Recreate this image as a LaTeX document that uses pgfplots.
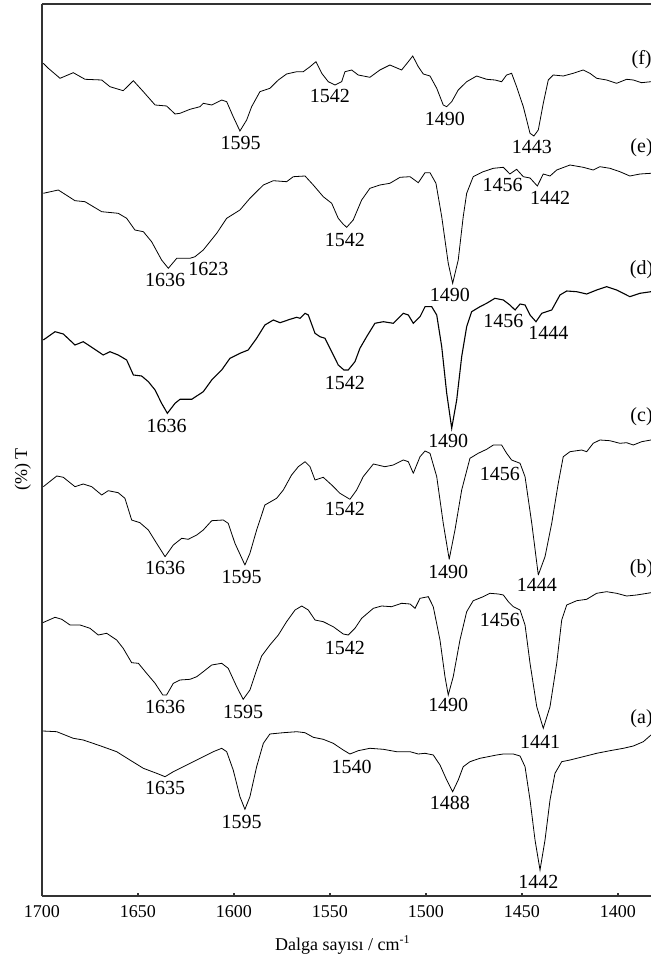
\documentclass[border=0pt]{standalone}
\usepackage{fontspec}
\setmainfont{Liberation Serif}
\usepackage{pgfplots}
\pgfplotsset{compat=1.18}
\begin{document}
\begin{tikzpicture}
\begin{axis}[
  scale only axis, width=304.5pt, height=446pt,
  x dir=reverse, xmin=1382.8, xmax=1700, ymin=0, ymax=892,
  axis x line*=bottom, axis y line*=left,
  axis line style={line width=0.8pt, draw=black!80, -},
  xtick={1400,1450,1500,1550,1600,1650,1700},
  xticklabels={1400,1450,1500,1550,1600,1650,1700},
  xtick align=inside, xtick pos=lower,
  major tick length=1.6pt, major tick style={line width=0.7pt, black!80},
  ytick=\empty,
  tick label style={font=\fontsize{9}{10}\selectfont, yshift=-1.3pt},
  xlabel={Dalga sayısı / cm\textsuperscript{-1}},
  xlabel style={font=\fontsize{9}{10}\selectfont, at={(axis description cs:0.494,0)}, anchor=center, yshift=-24.5pt},
  ylabel={(\%) T},
  ylabel style={font=\fontsize{9}{10}\selectfont, at={(axis description cs:0,0.478)}, anchor=center, rotate=0, yshift=9.6pt},
  clip=false,
  cycle list={{black, solid, line width=0.55pt, line join=round, mark=none}},
  every node/.append style={font=\fontsize{9}{10}\selectfont},
]
% (f)
\addplot coordinates {(1699.3,832.7)(1696.7,827.7)(1690.6,817.7)(1683.7,823.3)(1677.6,816.7)(1668.9,816)(1664.6,809.3)(1657.7,805.3)(1652.4,815.3)(1647.2,804.3)(1641.1,791)(1635.1,790)(1630.7,782)(1628.1,782.7)(1622.9,786.7)(1617.7,789.3)(1616.0,792.7)(1611.6,791)(1606.4,796)(1603.8,794.3)(1600.4,779.3)(1596.9,765)(1593.4,776)(1590.8,789.3)(1586.5,804.3)(1581.3,807.7)(1576.9,816)(1572.6,822)(1567.3,824.3)(1563.9,824.3)(1560.4,829.3)(1557.3,834.3)(1554.3,822.7)(1550.9,814.3)(1547.4,811)(1543.9,814.3)(1542.2,824.3)(1538.7,826)(1535.3,821)(1529.2,818.7)(1524.0,826)(1518.8,831)(1512.7,826)(1509.2,834.3)(1506.9,840)(1504.0,829.3)(1501.4,822)(1497.9,820)(1494.4,807.7)(1491.0,791)(1489.2,789.3)(1486.6,794.3)(1483.2,806)(1478.8,814.3)(1473.6,820)(1468.4,816.7)(1464.1,816)(1460.6,814.3)(1458.0,821)(1455.4,822.7)(1452.8,809.3)(1449.3,789.3)(1445.8,762.7)(1443.8,760)(1441.5,766)(1438.9,792.7)(1436.3,816)(1433.7,821)(1428.5,820)(1423.3,822.7)(1418.1,826)(1414.6,822.7)(1411.1,817.7)(1405.9,816)(1400.7,812.7)(1395.5,816.7)(1392.0,816)(1387.7,813.3)(1382.8,814.3)};
% (e)
\addplot coordinates {(1699.3,702.7)(1691.5,706)(1682.8,695.3)(1677.6,694.3)(1668.9,684.3)(1660.3,682.7)(1655.9,677.7)(1651.6,666)(1647.2,664.3)(1642.9,654.3)(1637.7,636)(1634.2,627.7)(1629.8,637.7)(1622.9,637.7)(1620.3,639.3)(1616.0,646)(1609.0,662.7)(1603.8,677.7)(1596.9,686)(1591.7,697.7)(1584.7,711)(1579.5,715.3)(1572.6,714.3)(1569.1,719.3)(1563.0,720)(1558.7,711)(1553.5,699.3)(1549.1,692.7)(1545.7,677.7)(1543.2,672)(1541.3,668.7)(1537.9,676)(1533.5,696)(1529.2,707.7)(1524.0,711)(1518.8,712.7)(1513.5,718.7)(1508.3,719.3)(1504.0,713.3)(1500.5,723.3)(1497.9,723.3)(1494.8,712.7)(1491.8,679.3)(1488.4,632.7)(1486.1,612.7)(1483.2,636)(1480.6,679.3)(1478.8,702.7)(1475.4,719.3)(1470.2,724.3)(1464.9,727.7)(1459.7,728.7)(1456.3,722)(1452.8,726.7)(1449.3,719.3)(1445.8,718)(1442.0,710)(1438.9,722)(1435.4,720)(1431.9,726)(1425.0,731)(1418.1,728.7)(1412.9,726)(1409.4,729.3)(1404.2,727.7)(1399.0,724.3)(1393.8,720)(1388.5,722)(1382.8,722.7)};
% (d)
\addplot coordinates {(1699.3,556)(1693.2,564.3)(1688.9,562)(1682.8,551)(1678.5,554.3)(1673.3,547.7)(1668.1,541)(1664.6,544.3)(1660.3,541)(1655.9,536)(1652.4,521)(1648.1,520)(1644.6,514.3)(1641.1,506)(1637.7,492.7)(1634.7,482.7)(1630.7,492.7)(1628.1,496.7)(1622.0,496.7)(1619.4,500)(1616.0,504.3)(1611.6,516)(1606.4,526)(1602.1,537.7)(1596.9,542.7)(1592.6,546)(1588.2,557.7)(1583.9,571)(1579.5,576)(1576.0,573.3)(1570.8,576.7)(1567.3,578.7)(1565.6,577.7)(1563.0,582.7)(1561.3,581)(1557.8,562.7)(1555.2,559.3)(1552.6,557.7)(1549.1,544.3)(1545.7,531)(1542.7,526)(1540.5,526)(1537.0,534.3)(1534.4,547.7)(1530.9,559.3)(1526.6,572.7)(1522.2,574.3)(1517.0,572.7)(1511.8,582.7)(1509.2,581)(1506.6,572.7)(1503.1,579.3)(1500.5,589.3)(1497.0,589.3)(1494.4,581)(1491.8,549.3)(1489.2,502.7)(1486.6,467.7)(1484.0,496)(1481.4,539.3)(1478.8,569.3)(1476.2,584.3)(1471.9,589.3)(1468.4,592.7)(1464.1,597.7)(1459.7,596)(1456.3,591)(1453.6,586)(1451.0,592)(1448.4,591)(1445.8,581)(1442.7,574.3)(1439.7,582.7)(1434.5,586)(1430.2,601)(1426.7,605)(1421.5,604.3)(1416.3,602)(1411.1,606)(1405.9,609.3)(1400.7,606)(1393.8,599.3)(1388.5,602.7)(1382.8,604.3)};
% (c)
\addplot coordinates {(1699.3,409.3)(1692.3,420)(1688.9,418.7)(1682.8,409.3)(1678.5,412)(1674.1,409.3)(1668.9,401)(1665.5,405.3)(1660.3,403.3)(1656.8,397.7)(1653.3,376)(1649.0,373.3)(1644.6,366)(1640.3,352.7)(1635.9,339.3)(1631.6,351)(1627.2,357.7)(1623.8,356.7)(1619.4,361)(1616.0,366)(1611.6,375.3)(1605.6,376)(1603.0,372.7)(1599.5,352.7)(1594.3,331)(1591.7,342.7)(1588.2,366)(1583.9,391)(1577.8,397.7)(1574.3,406)(1570.0,421)(1566.5,429.3)(1563.0,434.3)(1560.4,429.3)(1557.8,416)(1553.5,418.7)(1549.1,411)(1544.8,402.7)(1539.6,396.7)(1536.1,406)(1532.7,419.3)(1527.4,432)(1521.4,429.3)(1517.0,431)(1511.8,436)(1509.2,434.3)(1506.6,422.7)(1503.1,439.3)(1500.5,445)(1497.9,442.7)(1494.4,419.3)(1491.0,372.7)(1487.9,336.7)(1484.9,366)(1481.4,406)(1477.1,437.7)(1472.8,442.7)(1468.4,446.7)(1464.9,451)(1460.6,451)(1458.0,442.7)(1455.4,436)(1451.0,432.7)(1448.4,419.3)(1444.9,372.7)(1441.5,321)(1438.0,339.3)(1434.5,372.7)(1431.1,412.7)(1428.5,439.3)(1425.0,444.3)(1418.9,446)(1416.3,444.3)(1412.9,452.7)(1409.4,456)(1404.2,455.3)(1399.0,452.7)(1395.5,453.3)(1392.0,451)(1387.7,454.3)(1382.8,456)};
% (b)
\addplot coordinates {(1699.6,273.3)(1693.2,278.7)(1689.7,276.7)(1685.4,271)(1680.2,271)(1675.0,267.7)(1670.7,261)(1666.3,262.7)(1661.1,256)(1657.7,247.7)(1653.3,233.3)(1649.8,232.7)(1645.5,222.7)(1641.1,212.7)(1637.1,201)(1635.1,201)(1631.6,212.7)(1628.1,216)(1622.9,216.7)(1619.4,219.3)(1616.0,224.3)(1611.6,231)(1606.4,232.7)(1603.0,227.7)(1598.6,209.3)(1595.2,196.7)(1591.7,206)(1588.2,226)(1585.6,240)(1581.3,251)(1576.9,261)(1572.6,274.3)(1568.2,286)(1564.7,290)(1561.3,286)(1557.8,276)(1553.5,274.3)(1548.3,269.3)(1543.1,262)(1540.5,261)(1537.0,267.7)(1533.5,277.7)(1527.4,287.7)(1523.1,290)(1517.9,289.3)(1512.7,292.7)(1508.3,292)(1505.7,287.7)(1503.1,297.7)(1498.8,299.3)(1496.2,289.3)(1492.7,256)(1490.1,219.3)(1488.4,201)(1485.8,219.3)(1482.3,256)(1478.8,284.3)(1475.4,295.3)(1470.2,299.3)(1466.7,302.7)(1462.3,302)(1459.7,301)(1457.1,294.3)(1454.5,289.3)(1451.0,286)(1448.4,271)(1445.8,232.7)(1442.3,189.3)(1438.9,167.7)(1435.4,189.3)(1431.9,232.7)(1429.3,276)(1426.7,291)(1421.5,295.3)(1416.3,296.7)(1411.1,302.7)(1405.9,304.3)(1400.7,302.7)(1395.5,300)(1390.3,301)(1382.8,303.3)};
% (a)
\addplot coordinates {(1699.6,165)(1692.3,164.3)(1683.7,157.7)(1678.5,156)(1669.8,150.3)(1661.1,144.3)(1654.2,136)(1647.2,127.7)(1640.3,122.7)(1635.9,119.3)(1631.6,124.3)(1626.4,129.3)(1621.2,134.3)(1616.0,139.3)(1610.8,144.3)(1606.4,147.7)(1603.8,144.3)(1600.4,126)(1596.9,99.3)(1594.3,86.7)(1591.7,99.3)(1588.2,129.3)(1584.7,152.7)(1581.3,162)(1574.3,163.3)(1567.3,164.3)(1563.0,163.3)(1558.7,158.7)(1553.5,156.7)(1548.3,152.7)(1543.1,146)(1539.6,142)(1535.3,145.3)(1529.2,147.7)(1522.2,146.7)(1515.3,144.3)(1508.3,144.3)(1504.0,142)(1500.5,142.7)(1496.2,141)(1492.7,131)(1489.2,116)(1486.1,104.3)(1483.2,116)(1480.6,129.3)(1477.1,134.3)(1471.9,137.7)(1467.6,139.3)(1463.2,141)(1459.7,142)(1454.5,142)(1451.0,140)(1448.4,129.3)(1445.8,96)(1443.2,56)(1440.6,26)(1438.0,56)(1435.4,96)(1432.8,122.7)(1429.3,134.3)(1425.0,136)(1418.1,139.3)(1411.1,142.7)(1404.2,145.3)(1397.2,147.7)(1392.0,150)(1386.8,154.3)(1382.8,161)};
% peak labels
\node at (axis cs:1596.5,752.7) {1595};
\node at (axis cs:1550,800) {1542};
\node at (axis cs:1490.1,776.7) {1490};
\node at (axis cs:1444.9,748.7) {1443};
\node at (axis cs:1387.7,836) {(f)};
\node at (axis cs:1635.9,616) {1636};
\node at (axis cs:1613.4,626.7) {1623};
\node at (axis cs:1542.2,656) {1542};
\node at (axis cs:1487.5,601) {1490};
\node at (axis cs:1460.1,711) {1456};
\node at (axis cs:1435.4,697.7) {1442};
\node at (axis cs:1387.7,748.7) {(e)};
\node at (axis cs:1635.1,470) {1636};
\node at (axis cs:1542.2,513.3) {1542};
\node at (axis cs:1488.4,455.3) {1490};
\node at (axis cs:1459.7,575.3) {1456};
\node at (axis cs:1436.3,562.7) {1444};
\node at (axis cs:1387.7,626.7) {(d)};
\node at (axis cs:1635.9,327.7) {1636};
\node at (axis cs:1596.0,319.3) {1595};
\node at (axis cs:1542.2,386.7) {1542};
\node at (axis cs:1488.4,324.3) {1490};
\node at (axis cs:1461.5,422) {1456};
\node at (axis cs:1442.3,311) {1444};
\node at (axis cs:1387.7,479.3) {(c)};
\node at (axis cs:1635.9,188.7) {1636};
\node at (axis cs:1595.2,184.3) {1595};
\node at (axis cs:1542.2,247.7) {1542};
\node at (axis cs:1488.4,191) {1490};
\node at (axis cs:1461.5,276) {1456};
\node at (axis cs:1440.6,154.3) {1441};
\node at (axis cs:1387.7,327.7) {(b)};
\node at (axis cs:1635.9,107.7) {1635};
\node at (axis cs:1596.0,73.7) {1595};
\node at (axis cs:1538.7,129.3) {1540};
\node at (axis cs:1487.5,92.7) {1488};
\node at (axis cs:1441.5,14.3) {1442};
\node at (axis cs:1387.7,177.7) {(a)};
\draw[line width=0.8pt, draw=black!80] (rel axis cs:0,1) -- (rel axis cs:1,1);
\coordinate (bl) at (rel axis cs:0,0);
\coordinate (tr) at (rel axis cs:1,1);
\end{axis}
\pgfresetboundingbox
\path[use as bounding box] ([xshift=-21pt,yshift=-29pt]bl) rectangle ([yshift=2pt]tr);
\end{tikzpicture}
\end{document}
